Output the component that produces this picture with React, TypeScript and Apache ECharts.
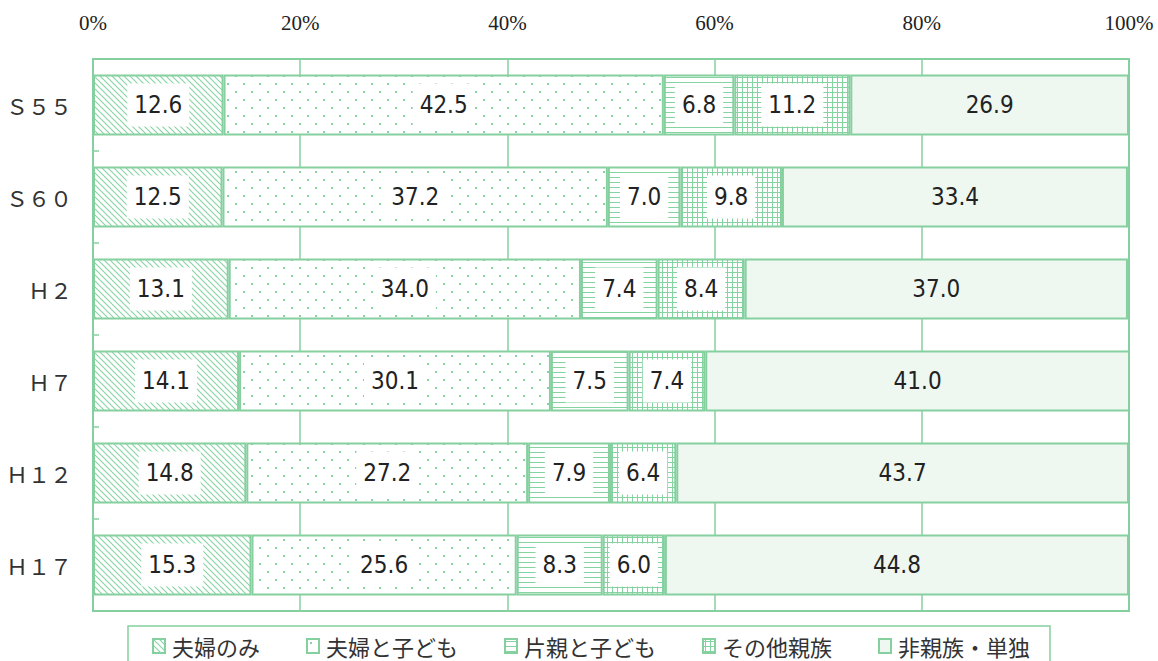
import React, { useEffect, useRef } from "react";
import * as echarts from "echarts";

const categories = ["Ｓ５５", "Ｓ６０", "Ｈ２", "Ｈ７", "Ｈ１２", "Ｈ１７"];
const seriesNames = ["夫婦のみ", "夫婦と子ども", "片親と子ども", "その他親族", "非親族・単独"];
const fuufuNomi = [12.6, 12.5, 13.1, 14.1, 14.8, 15.3];
const fuufuToKodomo = [42.5, 37.2, 34.0, 30.1, 27.2, 25.6];
const kataoyaToKodomo = [6.8, 7.0, 7.4, 7.5, 7.9, 8.3];
const sonotaShinzoku = [11.2, 9.8, 8.4, 7.4, 6.4, 6.0];
const hishinzokuTandoku = [26.9, 33.4, 37.0, 41.0, 43.7, 44.8];
const xTicks = [0, 20, 40, 60, 80, 100];

const GREEN = "#86d0a0";
const LINE = "#86d3a2";

function makeTile(w: number, h: number, draw: (ctx: CanvasRenderingContext2D) => void, bg = "#ffffff") {
  const c = document.createElement("canvas");
  c.width = w;
  c.height = h;
  const ctx = c.getContext("2d")!;
  ctx.fillStyle = bg;
  ctx.fillRect(0, 0, w, h);
  draw(ctx);
  return { image: c, repeat: "repeat", imageWidth: w, imageHeight: h } as any;
}

export default function App() {
  const ref = useRef<HTMLDivElement>(null);
  useEffect(() => {
    if (!ref.current) return;
    const chart = echarts.init(ref.current, null, { renderer: "svg" });

    const hatch = makeTile(6, 6, (ctx) => {
      ctx.strokeStyle = LINE;
      ctx.lineWidth = 1.1;
      ctx.beginPath();
      ctx.moveTo(0, 0);
      ctx.lineTo(6, 6);
      ctx.moveTo(-1, 5);
      ctx.lineTo(1, 7);
      ctx.moveTo(5, -1);
      ctx.lineTo(7, 1);
      ctx.stroke();
    });
    const dots = makeTile(16, 16, (ctx) => {
      ctx.fillStyle = LINE;
      ctx.fillRect(3, 3, 2, 2);
      ctx.fillRect(11, 11, 2, 2);
    });
    const hlines = makeTile(5, 5, (ctx) => {
      ctx.fillStyle = LINE;
      ctx.fillRect(0, 2, 5, 1);
    });
    const grid = makeTile(5, 5, (ctx) => {
      ctx.fillStyle = LINE;
      ctx.fillRect(0, 2, 5, 1);
      ctx.fillRect(2, 0, 1, 5);
    });
    const fills = [hatch, dots, hlines, grid, "#eef8f1"];
    const values = [fuufuNomi, fuufuToKodomo, kataoyaToKodomo, sonotaShinzoku, hishinzokuTandoku];

    const series = values.map((vals, i) => ({
      name: seriesNames[i],
      type: "bar",
      stack: "total",
      barWidth: 61,
      data: vals,
      itemStyle: { color: fills[i], borderColor: GREEN, borderWidth: 2 },
      emphasis: { disabled: true },
      label: {
        show: true,
        position: "inside",
        formatter: (p: any) => Number(p.value).toFixed(1),
        color: "#222",
        fontSize: 24,
        fontFamily: "'DejaVu Sans Condensed', 'Liberation Sans Narrow', sans-serif",
        backgroundColor: i === 4 ? "transparent" : "#ffffff",
        padding: [10, 7, 9, 7],
      },
    }));

    chart.setOption({
      animation: false,
      backgroundColor: "#ffffff",
      grid: {
        left: 93,
        right: 29,
        top: 59,
        bottom: 50,
        show: true,
        borderColor: GREEN,
        borderWidth: 2,
        backgroundColor: "transparent",
      },
      xAxis: {
        type: "value",
        position: "top",
        min: xTicks[0],
        max: xTicks[xTicks.length - 1],
        interval: 20,
        axisLine: { show: false },
        axisTick: { show: false },
        splitLine: { show: true, lineStyle: { color: GREEN, width: 1.5 } },
        axisLabel: {
          formatter: "{value}%",
          color: "#222",
          fontSize: 21,
          fontFamily: "'Liberation Serif', 'DejaVu Serif', serif",
          margin: 26,
        },
      },
      yAxis: {
        type: "category",
        data: categories,
        inverse: true,
        axisLine: { show: true, lineStyle: { color: GREEN, width: 2 } },
        axisTick: { show: true, inside: true, length: 6, lineStyle: { color: GREEN, width: 1.5 } },
        axisLabel: {
          color: "#333",
          fontSize: 22,
          fontFamily: "'Noto Sans CJK JP', sans-serif",
          margin: 21,
        },
      },
      legend: {
        left: 128,
        top: 626,
        icon: "rect",
        itemWidth: 12,
        itemHeight: 14,
        itemGap: 46,
        padding: [9, 20, 30, 24],
        borderColor: GREEN,
        borderWidth: 1.5,
        selectedMode: false,
        textStyle: {
          color: "#333",
          fontSize: 22,
          fontFamily: "'Noto Sans CJK JP', sans-serif",
          padding: [0, 0, 0, 2],
        },
        data: seriesNames,
      },
      series,
    });
    return () => chart.dispose();
  }, []);
  return (
    <div
      ref={ref}
      style={{ position: "absolute", left: 0, top: 0, width: 1158, height: 661 }}
    />
  );
}
